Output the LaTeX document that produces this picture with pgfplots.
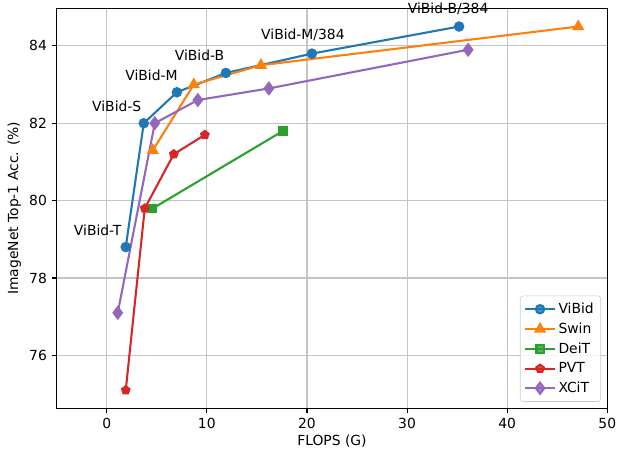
\documentclass[border=0pt]{standalone}
\usepackage{pgfplots}
\pgfplotsset{compat=1.18}
\usepackage{fontspec}
\setmainfont{DejaVu Sans}
\definecolor{c0}{HTML}{1F77B4}
\definecolor{c1}{HTML}{FF7F0E}
\definecolor{c2}{HTML}{2CA02C}
\definecolor{c3}{HTML}{D62728}
\definecolor{c4}{HTML}{9467BD}
\definecolor{gridc}{HTML}{C4C4C4}
\begin{document}
\begin{tikzpicture}
\begin{axis}[
  scale only axis,
  width=396.4pt, height=288pt,
  xmin=-5, xmax=50,
  ymin=74.63, ymax=84.97,
  xtick={0,10,20,30,40,50},
  ytick={76,78,80,82,84},
  /pgf/number format/assume math mode=true,
  tick label style={font=\fontsize{10}{12}\selectfont},
  label style={font=\fontsize{10}{12}\selectfont},
  xlabel={FLOPS (G)},
  ylabel={ImageNet Top-1 Acc. (\%)},
  xlabel style={yshift=2pt},
  ylabel style={yshift=-1pt},
  tick align=outside,
  xtick pos=bottom, ytick pos=left,
  major tick length=3.5pt,
  tick style={black, line width=0.8pt},
  axis line style={line width=0.8pt},
  grid=major,
  grid style={gridc, line width=0.8pt},
  clip=false,
  every axis plot/.append style={line width=1.5pt, mark size=3pt},
  legend style={at={(rel axis cs:0.9886,0.0165)}, anchor=south east,
    draw=black!20, rounded corners=2pt, fill=white, fill opacity=0.8, text opacity=1,
    font=\fontsize{10}{12}\selectfont, row sep=1.2pt, inner sep=3pt},
  legend cell align=left,
  legend image code/.code={\draw[mark repeat=2,mark phase=2] plot coordinates {(0cm,0cm) (0.37cm,0cm) (0.74cm,0cm)};},
]
\addplot[c0, mark=*, mark options={solid,fill=c0}] coordinates {(1.9,78.8) (3.7,82.0) (7.0,82.8) (11.9,83.3) (20.5,83.8) (35.2,84.5)};
\addlegendentry{ViBid}
\addplot[c1, mark=triangle*, mark size=3.6pt, mark options={fill=c1}] coordinates {(4.6,81.3) (8.7,83.0) (15.4,83.5) (47.1,84.5)};
\addlegendentry{Swin}
\addplot[c2, mark=square*, mark size=2.6pt, mark options={fill=c2}] coordinates {(4.6,79.8) (17.6,81.8)};
\addlegendentry{DeiT}
\addplot[c3, mark=pentagon*, mark size=2.8pt, mark options={fill=c3}] coordinates {(1.9,75.1) (3.8,79.8) (6.7,81.2) (9.8,81.7)};
\addlegendentry{PVT}
\addplot[c4, mark=diamond*, mark size=4pt, mark options={fill=c4}] coordinates {(1.1,77.1) (4.8,82.0) (9.1,82.6) (16.2,82.9) (36.1,83.9)};
\addlegendentry{XCiT}
\node[font=\fontsize{10}{12}\selectfont] at (axis cs:-0.9,79.24) {ViBid-T};
\node[font=\fontsize{10}{12}\selectfont] at (axis cs:1.0,82.44) {ViBid-S};
\node[font=\fontsize{10}{12}\selectfont] at (axis cs:4.47,83.24) {ViBid-M};
\node[font=\fontsize{10}{12}\selectfont] at (axis cs:9.27,83.76) {ViBid-B};
\node[font=\fontsize{10}{12}\selectfont] at (axis cs:19.6,84.28) {ViBid-M/384};
\node[font=\fontsize{10}{12}\selectfont] at (axis cs:34.1,84.95) {ViBid-B/384};
\end{axis}
\pgfresetboundingbox
\path ([xshift=-40.8pt,yshift=-33.6pt]current axis.south west) rectangle ([xshift=7pt,yshift=6pt]current axis.north east);
\end{tikzpicture}
\end{document}
